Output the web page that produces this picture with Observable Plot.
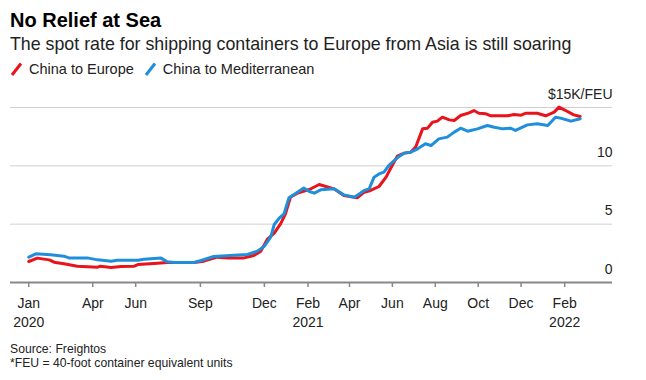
<!DOCTYPE html>
<html>
<head>
<meta charset="utf-8">
<script src="https://cdn.jsdelivr.net/npm/d3@7"></script>
<script src="https://cdn.jsdelivr.net/npm/@observablehq/plot@0.6"></script>
<style>
  body { margin: 0; background: #fff; font-family: "Liberation Sans", Arial, sans-serif; color: #111; }
  #wrap { position: relative; width: 646px; height: 380px; overflow: hidden; }
  .abs { position: absolute; left: 10px; white-space: nowrap; }
  #title { top: 10px; font-size: 20px; line-height: 20px; font-weight: bold; color: #000; }
  #subtitle { top: 35px; font-size: 17.8px; line-height: 18px; color: #222; }
  #legend { top: 62px; font-size: 14.5px; line-height: 14.5px; color: #222; display: flex; align-items: center; }
  #legend .item { display: inline-flex; align-items: center; margin-right: 10px; }
  #legend svg { margin-right: 6px; }
  #chart { position: absolute; left: 0; top: 85px; }
  #caption { top: 343px; font-size: 12.2px; line-height: 13.5px; color: #222; }
</style>
</head>
<body>
<div id="wrap">
  <div id="title" class="abs">No Relief at Sea</div>
  <div id="subtitle" class="abs">The spot rate for shipping containers to Europe from Asia is still soaring</div>
  <div id="legend" class="abs"></div>
  <div id="chart"></div>
  <div id="caption" class="abs">Source: Freightos<br>*FEU = 40-foot container equivalent units</div>
</div>
<script>
// ---- Data ----
const seriesNames = ["China to Europe", "China to Mediterranean"];
const seriesColors = ["#e8131b", "#1f8fdb"];

const europeDates = ["2020-01-01","2020-01-13","2020-01-30","2020-02-06","2020-02-20","2020-03-10","2020-04-08","2020-04-12","2020-04-27","2020-05-11","2020-05-30","2020-06-04","2020-06-27","2020-07-16","2020-08-23","2020-09-06","2020-09-25","2020-10-10","2020-11-02","2020-11-16","2020-11-26","2020-12-05","2020-12-15","2020-12-24","2020-12-31","2021-01-07","2021-01-17","2021-02-03","2021-02-17","2021-03-10","2021-03-24","2021-04-12","2021-04-22","2021-05-01","2021-05-13","2021-05-23","2021-05-30","2021-06-08","2021-06-18","2021-06-27","2021-07-04","2021-07-14","2021-07-21","2021-07-28","2021-08-04","2021-08-11","2021-08-21","2021-08-28","2021-09-06","2021-09-18","2021-09-25","2021-10-02","2021-10-12","2021-10-19","2021-11-12","2021-11-21","2021-12-01","2021-12-08","2021-12-24","2022-01-05","2022-01-17","2022-01-24","2022-02-05","2022-02-14","2022-02-23"];
const europeValues = [1.80,2.09,1.94,1.74,1.60,1.40,1.31,1.40,1.29,1.37,1.40,1.54,1.63,1.71,1.71,1.83,2.17,2.09,2.11,2.31,2.69,3.69,4.23,5.03,5.89,7.31,7.66,7.97,8.40,8.03,7.46,7.26,7.74,7.89,8.23,9.03,9.83,10.83,11.09,11.17,11.60,13.17,13.23,13.74,13.83,14.17,13.94,13.89,14.31,14.54,14.74,14.51,14.46,14.29,14.29,14.40,14.34,14.51,14.51,14.29,14.60,15.03,14.66,14.37,14.23];

const medDates = ["2020-01-01","2020-01-11","2020-02-01","2020-02-20","2020-02-27","2020-03-24","2020-04-08","2020-04-27","2020-05-06","2020-06-04","2020-06-13","2020-07-07","2020-07-16","2020-07-26","2020-08-23","2020-09-02","2020-09-20","2020-10-19","2020-11-07","2020-11-21","2020-12-01","2020-12-10","2020-12-15","2020-12-22","2020-12-29","2021-01-05","2021-01-17","2021-01-26","2021-02-03","2021-02-10","2021-02-19","2021-03-10","2021-03-24","2021-04-08","2021-04-22","2021-04-29","2021-05-06","2021-05-13","2021-05-20","2021-05-27","2021-06-08","2021-06-18","2021-06-27","2021-07-07","2021-07-18","2021-07-26","2021-08-06","2021-08-18","2021-08-28","2021-09-06","2021-09-16","2021-09-30","2021-10-14","2021-10-24","2021-11-05","2021-11-16","2021-11-23","2021-12-10","2021-12-24","2022-01-08","2022-01-19","2022-01-26","2022-02-10","2022-02-23"];
const medValues = [2.17,2.46,2.37,2.26,2.11,2.11,1.94,1.83,1.91,1.91,2.00,2.09,1.77,1.71,1.71,1.89,2.23,2.34,2.40,2.69,3.11,3.89,4.97,5.51,5.89,7.26,7.74,8.09,7.80,7.66,7.94,8.03,7.51,7.31,7.89,8.03,9.03,9.31,9.46,10.03,10.69,11.09,11.17,11.46,11.89,11.74,12.31,12.46,12.89,13.23,12.97,13.17,13.46,13.31,13.17,13.23,13.03,13.51,13.60,13.46,14.17,14.09,13.83,14.03];

const xTickDates = ["2020-01-01","2020-04-01","2020-06-01","2020-09-01","2020-12-01","2021-02-01","2021-04-01","2021-06-01","2021-08-01","2021-10-01","2021-12-01","2022-02-01"];
const xTickLabels = ["Jan\n2020","Apr","Jun","Sep","Dec","Feb\n2021","Apr","Jun","Aug","Oct","Dec","Feb\n2022"];
const yTicks = [0, 5, 10, 15];
const yTickLabels = ["0", "5", "10", "$15K/FEU"];

// ---- Build ----
const parse = d3.utcParse("%Y-%m-%d");
const europe = europeDates.map((d, i) => ({date: parse(d), value: europeValues[i]}));
const med = medDates.map((d, i) => ({date: parse(d), value: medValues[i]}));
const xTicks = xTickDates.map(parse);
const labelOf = new Map(xTicks.map((d, i) => [+d, xTickLabels[i]]));

// legend
const legend = document.getElementById("legend");
seriesNames.forEach((name, i) => {
  const item = document.createElement("span");
  item.className = "item";
  item.innerHTML = `<svg width="13" height="14" viewBox="0 0 13 14"><line x1="2" y1="13" x2="11" y2="1.5" stroke="${seriesColors[i]}" stroke-width="3"/></svg>${name}`;
  legend.appendChild(item);
});

const chart = Plot.plot({
  width: 646,
  height: 250,
  marginTop: 22,
  marginBottom: 53,
  marginLeft: 10,
  marginRight: 34,
  style: {fontFamily: '"Liberation Sans", Arial, sans-serif', color: "#222", background: "transparent"},
  x: {type: "utc", domain: [parse("2019-12-06"), parse("2022-04-10")]},
  y: {domain: [0, 15]},
  marks: [
    Plot.ruleY([5, 10, 15], {stroke: "#d0d0d0", strokeWidth: 1}),
    Plot.text(yTicks, {y: d => d, text: (d, i) => yTickLabels[i], frameAnchor: "right", textAnchor: "end", lineAnchor: "bottom", dy: -9, fontSize: 14, fill: "#222"}),
    Plot.line(europe, {x: "date", y: "value", stroke: seriesColors[0], strokeWidth: 3, curve: "linear"}),
    Plot.line(med, {x: "date", y: "value", stroke: seriesColors[1], strokeWidth: 3, curve: "linear"}),
    Plot.ruleY([0], {stroke: "#888", strokeWidth: 2}),
    Plot.axisX({ticks: xTicks, tickSize: 5, tickPadding: 7, stroke: "#888", strokeWidth: 1.5, tickFormat: d => labelOf.get(+d), fontSize: 14, lineHeight: 1.35, label: null, fill: "#222"}),
    Plot.axisY({ticks: [], label: null})
  ]
});
document.getElementById("chart").appendChild(chart);
</script>
</body>
</html>
